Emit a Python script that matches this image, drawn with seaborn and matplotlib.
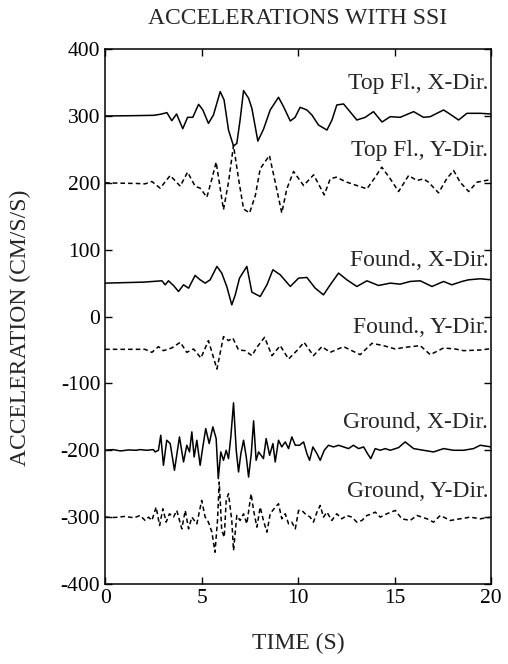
import pandas as pd
import seaborn as sns
import matplotlib.pyplot as plt

# values (time in s, acceleration in cm/s/s, offset)
top_x_t = [0.0, 1.5, 2.5, 2.85, 3.2, 3.45, 3.7, 4.02, 4.27, 4.54, 4.84, 5.06, 5.35, 5.61,
           5.96, 6.16, 6.39, 6.65, 6.82, 6.99, 7.17, 7.43, 7.6, 7.91, 8.2, 8.55, 8.98, 9.24,
           9.59, 9.84, 10.1, 10.45, 10.71, 11.05, 11.49, 11.75, 12.0, 12.35, 12.61, 13.04,
           13.47, 13.9, 14.34, 14.77, 15.28, 15.98, 16.49, 16.84, 17.53, 17.88, 18.31,
           18.74, 19.43, 20.0]
top_x_v = [300, 300.5, 301, 302.5, 305, 293, 303, 281, 298, 298, 317.5, 309, 289, 301.5,
           336.5, 324, 279, 255, 259, 294, 338, 326.5, 311.5, 262.5, 280, 309, 328, 314,
           292.5, 298, 313, 309, 301.5, 286.5, 279, 294, 316.5, 318, 309, 294,
           298, 306.5, 291, 299, 298, 306.5, 298, 299, 309, 302.5, 294,
           304, 304, 303]

top_y_t = [0.0, 1.7, 2.07, 2.42, 2.85, 3.37, 3.89, 4.27, 4.66, 4.92, 5.27, 5.53, 5.75, 6.13,
           6.39, 6.65, 6.91, 7.17, 7.48, 7.78, 8.03, 8.51, 8.81, 9.15, 9.41, 9.76, 10.28,
           10.8, 11.35, 11.66, 11.97, 12.52, 13.04, 13.56, 13.99, 14.33, 14.77, 15.2, 15.72,
           16.15, 16.49, 16.75, 17.27, 17.69, 18.05, 18.39, 18.83, 19.26, 20.0]
top_y_v = [200, 199, 198.5, 202, 192, 211, 195, 216, 195, 192, 178.5, 206, 231, 160,
           201, 256, 206, 161, 155, 181, 221, 241, 201, 155, 191, 217, 196,
           212, 182, 206, 208.5, 201, 196, 191, 208.5, 223.5, 206, 187, 211,
           203.5, 206, 201, 185, 206, 218.5, 201, 187, 201, 205]

found_x_t = [0.0, 2.0, 2.94, 3.11, 3.28, 3.54, 3.8, 4.06, 4.32, 4.66, 4.92, 5.18, 5.44, 5.79,
             6.04, 6.3, 6.56, 6.74, 6.96, 7.34, 7.6, 8.03, 8.38, 8.69, 9.07, 9.59, 10.02,
             10.45, 10.88, 11.31, 11.66, 12.09, 12.52, 13.04, 13.56, 14.16, 14.77, 15.28,
             15.8, 16.32, 16.93, 17.53, 17.96, 18.48, 18.83, 19.43, 20.0]
found_x_v = [50, 51.5, 53.5, 47.5, 53.5, 46.5, 37.5, 47.5, 42.5, 61.5, 55, 50, 55, 75,
             65, 45, 17.5, 32.5, 57.5, 75, 36.5, 30, 47.5, 70, 62.5, 45, 57.5,
             58.5, 42.5, 32.5, 47.5, 65, 55, 45, 53.5, 46.5, 50, 48.5,
             52.5, 53.5, 45, 52.5, 47.5, 52.5, 55, 56.5, 55]

found_y_t = [0.0, 2.07, 2.42, 2.76, 3.02, 3.45, 3.89, 4.23, 4.58, 4.96, 5.35, 5.79, 6.13,
             6.39, 6.61, 6.91, 7.25, 7.6, 7.86, 8.26, 8.64, 9.07, 9.5, 9.93, 10.3, 10.79,
             11.23, 11.66, 12.35, 13.21, 13.82, 14.42, 15.03, 15.54, 16.32, 16.84, 17.53,
             18.13, 18.57, 19.43, 20.0]
found_y_v = [-49, -49, -53.5, -45, -51, -47, -38.5, -53.5, -48.5, -62, -36, -78.5, -30,
             -36, -32, -50, -51, -58.5, -46, -31, -58.5, -43.5, -63.5, -51, -38.5, -58.5,
             -45, -53.5, -45, -57, -40, -43.5, -48.5, -46, -43.5, -57, -47,
             -48.5, -51, -50, -48]

ground_x_t = [0.0, 0.4, 0.8, 1.2, 1.6, 1.81, 2.16, 2.5, 2.59, 2.76, 2.88, 3.02, 3.19, 3.37,
              3.59, 3.85, 4.06, 4.23, 4.37, 4.49, 4.61, 4.75, 4.92, 5.06, 5.21, 5.39, 5.58,
              5.75, 5.86, 5.99, 6.13, 6.27, 6.39, 6.51, 6.65, 6.79, 6.91, 7.03, 7.17, 7.31,
              7.43, 7.57, 7.69, 7.82, 7.95, 8.2, 8.34, 8.52, 8.69, 8.81, 8.98, 9.15, 9.33,
              9.5, 9.67, 9.85, 10.07, 10.28, 10.45, 10.59, 10.76, 10.97, 11.14, 11.35,
              11.57, 11.83, 12.09, 12.35, 12.61, 12.86, 13.13, 13.39, 13.59, 13.76, 13.99,
              14.25, 14.51, 14.77, 15.2, 15.54, 15.98, 16.49, 17.01, 17.53, 18.05, 18.57,
              19.08, 19.43, 20.0]
ground_x_v = [-200, -199, -201, -199.5, -200, -199, -200, -199, -202.5, -200, -177.5, -222.5,
              -185, -190, -230, -180, -217.5, -192.5, -202.5, -172.5, -210, -185, -222.5,
              -195, -167.5, -190, -165, -182.5, -242.5, -202.5, -215, -200, -212.5, -180,
              -129, -200, -232.5, -205, -185, -210, -240, -205, -156, -215, -202.5, -212.5,
              -182.5, -207.5, -190, -217.5, -185, -195, -187.5, -197.5, -180, -192.5,
              -192.5, -187.5, -205, -215, -195, -205, -215, -200, -192.5, -195, -192.5,
              -195, -197.5, -192.5, -197.5, -195, -205, -212.5, -197.5, -200, -197.5,
              -200, -196, -187.5, -197.5, -200, -202.5, -197.5, -200, -200, -197.5,
              -192.5, -195]

ground_y_t = [0.0, 0.5, 1.0, 1.5, 1.81, 2.07, 2.25, 2.42, 2.64, 2.82, 2.99, 3.16, 3.33, 3.54,
              3.71, 3.97, 4.15, 4.32, 4.49, 4.75, 5.0, 5.18, 5.35, 5.53, 5.69, 5.82, 5.91,
              6.04, 6.17, 6.27, 6.39, 6.56, 6.65, 6.82, 6.99, 7.17, 7.34, 7.56, 7.69, 7.86,
              8.03, 8.2, 8.38, 8.55, 8.81, 8.98, 9.15, 9.33, 9.5, 9.67, 9.85, 10.02, 10.19,
              10.36, 10.62, 10.79, 10.97, 11.14, 11.31, 11.49, 11.74, 12.0, 12.26, 12.52,
              12.78, 13.04, 13.3, 13.56, 13.82, 13.99, 14.25, 14.59, 15.03, 15.37, 15.8,
              16.15, 16.67, 17.01, 17.36, 17.88, 18.39, 18.91, 19.43, 20.0]
ground_y_v = [-300, -300.5, -299, -301, -297.5, -305, -300, -305, -285, -312.5, -287.5,
              -307.5, -295, -300, -290, -317.5, -290, -317.5, -300, -310, -275, -300,
              -307.5, -322.5, -352.5, -305, -247.5, -320, -330, -275, -265, -305, -350,
              -297.5, -305, -295, -310, -265, -290, -315, -285, -305, -322.5, -295, -285,
              -280, -302.5, -295, -310, -307.5, -317.5, -290, -290, -295, -300, -307.5,
              -292.5, -282.5, -300, -292.5, -305, -295, -302.5, -297.5, -300, -307.5,
              -305, -297.5, -295, -292.5, -300, -295, -290, -302.5, -305, -297.5,
              -302.5, -307.5, -297.5, -305, -302.5, -300, -302.5, -300]

series_names = ["Top Fl., X-Dir.", "Top Fl., Y-Dir.", "Found., X-Dir.",
                "Found., Y-Dir.", "Ground, X-Dir.", "Ground, Y-Dir."]
label_y = [349, 248, 84, -17, -159, -261]

frames = []
for name, t, v in [
    (series_names[0], top_x_t, top_x_v),
    (series_names[1], top_y_t, top_y_v),
    (series_names[2], found_x_t, found_x_v),
    (series_names[3], found_y_t, found_y_v),
    (series_names[4], ground_x_t, ground_x_v),
    (series_names[5], ground_y_t, ground_y_v),
]:
    frames.append(pd.DataFrame({"time": t, "acc": v, "series": name,
                                "dir": "Y" if "Y-Dir" in name else "X"}))
df = pd.concat(frames, ignore_index=True)

sns.set_style("ticks")
plt.rcParams["font.family"] = ["Liberation Serif", "DejaVu Serif"]
plt.rcParams["axes.unicode_minus"] = False

fig = plt.figure(figsize=(5.08, 6.64), dpi=100)
ax = fig.add_axes([0.207, 0.1205, 0.76, 0.8055])

sns.lineplot(data=df, x="time", y="acc", units="series", estimator=None,
             style="dir", dashes={"X": "", "Y": (3, 2)}, color="black",
             linewidth=1.1, legend=False, ax=ax)

for name, ly in zip(series_names, label_y):
    ax.text(19.85, ly, name, ha="right", va="center", fontsize=17)

ax.set_xlim(0, 20)
ax.set_ylim(-400, 400)
ax.set_xticks([0, 5, 10, 15, 20])
ax.set_yticks(range(-400, 401, 100))
ax.tick_params(direction="in", top=True, right=True, length=5, width=1,
               labelsize=15.5, colors="black")
for s in ax.spines.values():
    s.set_color("black")
    s.set_linewidth(1.1)
ax.set_xlabel("")
ax.set_ylabel("")

fig.text(0.585, 1 - 18 / 664, "ACCELERATIONS WITH SSI", ha="center", va="center",
         fontsize=17)
fig.text(0.04, 1 - 328 / 664, "ACCELERATION (CM/S/S)", ha="center", va="center",
         rotation=90, fontsize=17)
fig.text(0.587, 1 - 643 / 664, "TIME (S)", ha="center", va="center", fontsize=17)

fig.savefig("out.png", dpi=100)
